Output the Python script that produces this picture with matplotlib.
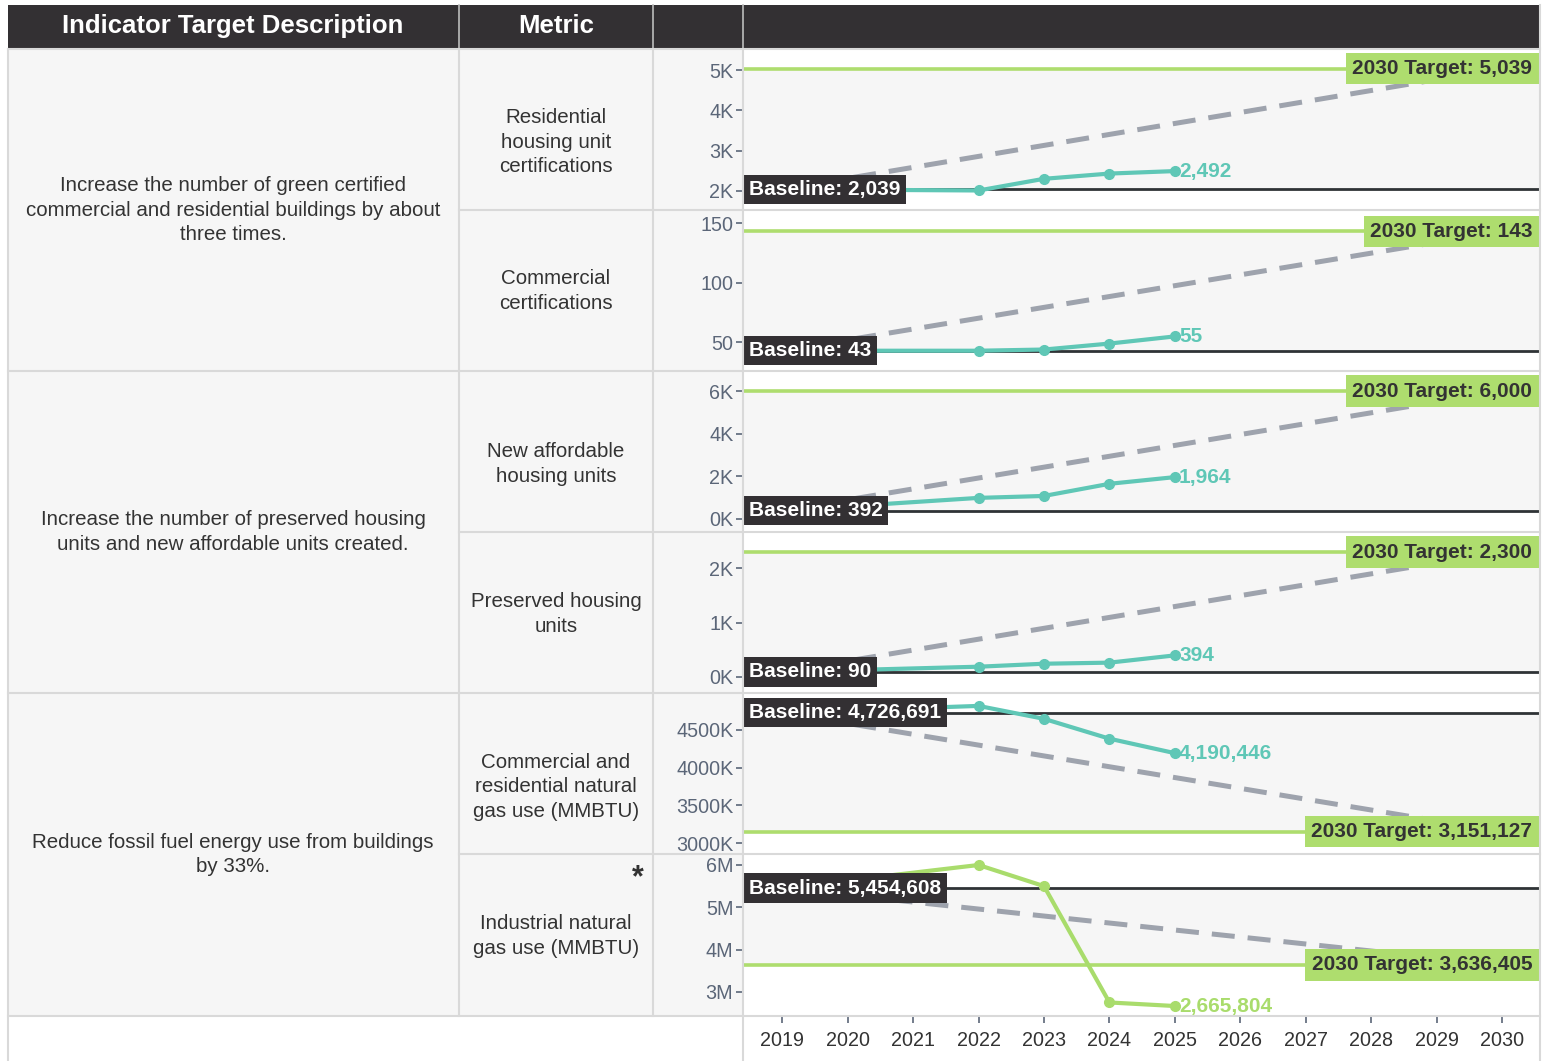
import matplotlib.pyplot as plt
import matplotlib.patches as mpatches
import matplotlib.lines as mlines

# figure size in pixels
W, H = 1549, 1061

# ---------------- data ----------------
descriptions = [
    "Increase the number of green certified\ncommercial and residential buildings by about\nthree times.",
    "Increase the number of preserved housing\nunits and new affordable units created.",
    "Reduce fossil fuel energy use from buildings\nby 33%.",
]
metrics = [
    "Residential\nhousing unit\ncertifications",
    "Commercial\ncertifications",
    "New affordable\nhousing units",
    "Preserved housing\nunits",
    "Commercial and\nresidential natural\ngas use (MMBTU)",
    "Industrial natural\ngas use (MMBTU)",
]
baseline = [2039, 43, 392, 90, 4726691, 5454608]
target = [5039, 143, 6000, 2300, 3151127, 3636405]

years = [2019, 2022, 2023, 2024, 2025]
res_cert = [2039, 2010, 2300, 2430, 2492]
com_cert = [43, 43, 44, 49, 55]
afford_units = [392, 990, 1080, 1650, 1964]
preserved_units = [90, 185, 240, 260, 394]
com_res_gas = [4726691, 4816000, 4645000, 4382000, 4190446]
ind_gas = [5454608, 6000000, 5500000, 2750000, 2665804]
actual = [res_cert, com_cert, afford_units, preserved_units, com_res_gas, ind_gas]

y_ticks = [
    [2000, 3000, 4000, 5000],
    [50, 100, 150],
    [0, 2000, 4000, 6000],
    [0, 1000, 2000],
    [3000000, 3500000, 4000000, 4500000],
    [3000000, 4000000, 5000000, 6000000],
]
y_ticklabels = [
    ["2K", "3K", "4K", "5K"],
    ["50", "100", "150"],
    ["0K", "2K", "4K", "6K"],
    ["0K", "1K", "2K"],
    ["3000K", "3500K", "4000K", "4500K"],
    ["3M", "4M", "5M", "6M"],
]
x_years = list(range(2019, 2031))

# ---------------- layout / style ----------------
y_limits = [(1525, 5525), (26, 161), (-610, 6940), (-300, 2670),
            (2855000, 4987000), (2430000, 6260000)]
row_edges = [49, 210, 371, 532, 693, 854, 1016]
metric_y = [142, 291, 464, 614, 787, 936]
line_colors = ['#5fc7b6'] * 5 + ['#a9dc6c']

DARK = '#333033'
GREEN = '#aedd6e'
CELL = '#f6f6f6'
BORDER = '#d9d9d9'
TICK = '#5b6678'

plt.rcParams['font.family'] = ['Liberation Sans', 'DejaVu Sans']


def px(x0, y0, x1, y1):
    return [x0 / W, 1 - y1 / H, (x1 - x0) / W, (y1 - y0) / H]


def rect(x0, y0, x1, y1, color):
    r = mpatches.Rectangle((x0 / W, 1 - y1 / H), (x1 - x0) / W, (y1 - y0) / H,
                           transform=fig.transFigure, facecolor=color,
                           edgecolor='none', zorder=-5)
    fig.patches.append(r)


def line(x0, y0, x1, y1, color=BORDER, lw=1.5):
    fig.lines.append(mlines.Line2D([x0 / W, x1 / W], [1 - y0 / H, 1 - y1 / H],
                                   transform=fig.transFigure, color=color, lw=lw))


fig = plt.figure(figsize=(W / 100, H / 100), dpi=100)

# header
rect(8, 5, 1540, 48, DARK)
for xx in [459, 653, 743]:
    line(xx, 5, xx, 48, '#bdbdbd', 1.2)
fig.text(233 / W, 1 - 26 / H, "Indicator Target Description", color='white',
         fontsize=18.5, fontweight='bold', ha='center', va='center')
fig.text(556 / W, 1 - 26 / H, "Metric", color='white', fontsize=18.5,
         fontweight='bold', ha='center', va='center')

# table cells
rect(8, 49, 743, 1016, CELL)
for g, desc in enumerate(descriptions):
    y0, y1 = row_edges[2 * g], row_edges[2 * g + 2]
    fig.text(233 / W, 1 - (y0 + y1) / 2 / H, desc, fontsize=14.8, color='#333333',
             ha='center', va='center', multialignment='center', linespacing=1.35)
for i, m in enumerate(metrics):
    fig.text(556 / W, 1 - metric_y[i] / H, m, fontsize=14.8, color='#333333',
             ha='center', va='center', multialignment='center', linespacing=1.35)
fig.text(638 / W, 1 - 878 / H, "*", fontsize=22, color='#333333',
         ha='center', va='center', fontweight='bold')

# chart panels
for i in range(6):
    b, t = baseline[i], target[i]
    ax = fig.add_axes(px(743, row_edges[i], 1540, row_edges[i + 1]))
    ax.set_facecolor('white')
    ax.set_xlim(2018.40, 2030.58)
    ax.set_ylim(*y_limits[i])
    ax.axhspan(min(b, t), max(b, t), color=CELL, zorder=0, lw=0)
    ax.axhline(t, color=GREEN, lw=2.6, zorder=1)
    ax.axhline(b, color='#2f3336', lw=2.0, zorder=2)
    ax.plot([2019, 2030], [b, t], color='#9ea3ad', lw=3.6, dashes=(4.6, 2.6),
            zorder=3, solid_capstyle='butt')
    ax.plot(years, actual[i], color=line_colors[i], lw=3.0, marker='o', ms=7,
            zorder=4)
    ax.annotate(f"{actual[i][-1]:,}", xy=(years[-1], actual[i][-1]),
                xytext=(3, 0), textcoords='offset points', ha='left', va='center',
                color=line_colors[i], fontsize=15, fontweight='bold', zorder=6)
    ax.annotate(f"Baseline: {b:,}", xy=(0, b), xycoords=('axes fraction', 'data'),
                xytext=(4.5, 0), textcoords='offset points', ha='left', va='center',
                color='white', fontsize=15, fontweight='bold', zorder=7,
                bbox=dict(boxstyle='square,pad=0.25', fc=DARK, ec='none'))
    ax.annotate(f"2030 Target: {t:,}", xy=(1, t), xycoords=('axes fraction', 'data'),
                xytext=(-5.5, 0), textcoords='offset points', ha='right', va='center',
                color='#333333', fontsize=15, fontweight='bold', zorder=7,
                bbox=dict(boxstyle='square,pad=0.3', fc=GREEN, ec='none'))
    for s in ax.spines.values():
        s.set_visible(False)
    ax.set_yticks(y_ticks[i])
    ax.set_yticklabels(y_ticklabels[i])
    ax.tick_params(axis='y', length=5, width=1.2, color=TICK, labelcolor=TICK,
                   labelsize=14.2, pad=2)
    ax.set_xticks(x_years)
    if i == 5:
        ax.tick_params(axis='x', length=5, width=1.2, color=TICK,
                       labelcolor='#333333', labelsize=14.2, pad=6)
    else:
        ax.tick_params(axis='x', bottom=False, labelbottom=False)

# grid lines of the table
line(8, 49, 1540, 49)
for k in [1, 3, 5]:
    line(459, row_edges[k], 1540, row_edges[k])
for k in [2, 4]:
    line(8, row_edges[k], 1540, row_edges[k])
line(8, 1016, 1540, 1016)
line(8, 49, 8, 1061)
line(459, 49, 459, 1016)
line(653, 49, 653, 1016)
line(743, 49, 743, 1061)
line(1540, 5, 1540, 1061)

fig.savefig('out.png', dpi=100)
